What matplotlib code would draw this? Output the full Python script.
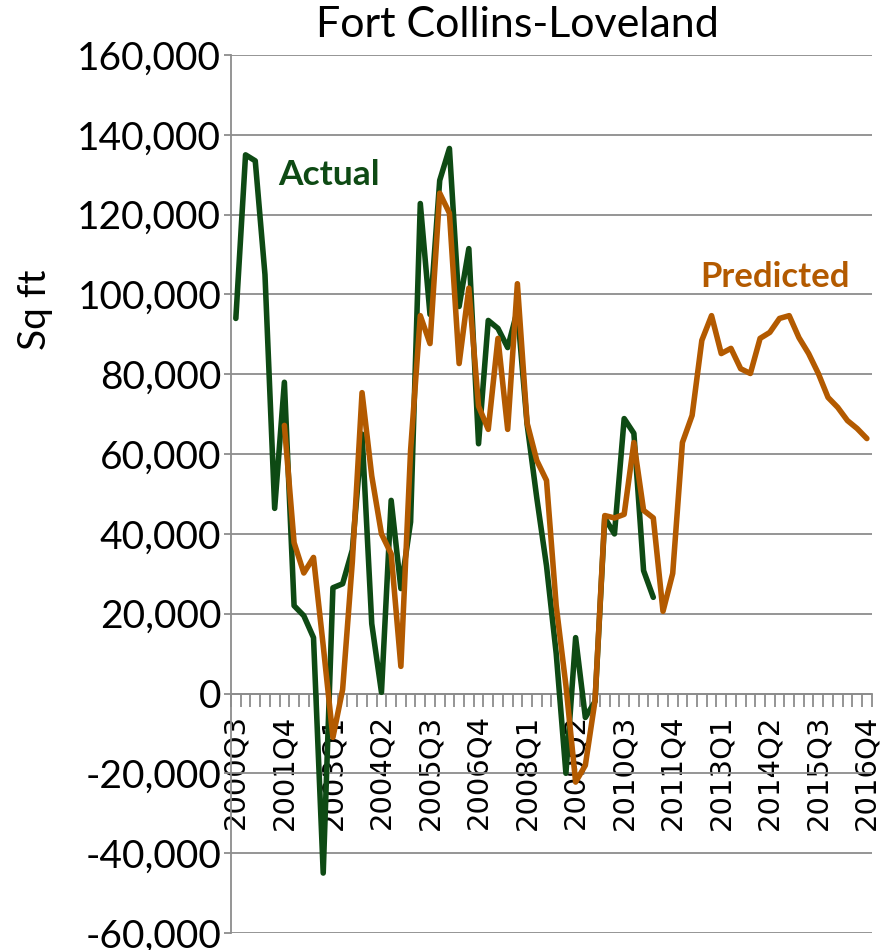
import matplotlib
matplotlib.use("Agg")
import matplotlib.pyplot as plt
import numpy as np
from matplotlib.ticker import FixedLocator, FuncFormatter

# ---- data ----
quarters = [f"{y}Q{q}" for y in range(2000, 2017) for q in range(1, 5)][2:]  # 2000Q3 .. 2016Q4

actual = [94000, 135000, 133500, 105000, 46400, 78000, 22000, 19500, 14000, -45000,
          26500, 27500, 36000, 65000, 17500, 300, 48400, 26300, 43000, 122800,
          95000, 128600, 136600, 97000, 111500, 62600, 93500, 91500, 86700, 96000,
          67500, 49000, 32000, 10000, -20000, 14000, -6000, -2000, 44000, 40000,
          68900, 65200, 30800, 24100]

predicted = [None, None, None, None, None,
             67200, 37800, 30200, 34100, 12000, -11000, 1000, 33000, 75400, 54500,
             40000, 35000, 6800, 60900, 94700, 87700, 125400, 120400, 82700, 101600,
             72000, 66200, 89000, 66200, 102700, 67800, 58400, 53400, 22000, 2000,
             -22200, -18000, -1750, 44600, 44000, 44900, 62900, 45900, 44000, 20600,
             30100, 62900, 69700, 88500, 94700, 85200, 86500, 81400, 80200, 89000,
             90500, 94000, 94700, 89200, 85200, 80200, 74200, 71700, 68400, 66400,
             63900]

title = "Fort Collins-Loveland"
ylabel = "Sq ft"
yticks = list(range(-60000, 160001, 20000))

GREEN = "#0e4a14"
ORANGE = "#b35a00"
GRID = "#8c8c8c"
FONT = "Lato"

fig = plt.figure(figsize=(8.85, 9.5), dpi=100)
ax = fig.add_axes([0.261, 0.018, 0.724, 0.924])

xa = np.arange(len(actual))
xp = np.arange(len(predicted))
pv = np.array([np.nan if v is None else v for v in predicted], dtype=float)

ax.plot(xa, actual, color=GREEN, lw=4.0, solid_joinstyle="round", solid_capstyle="round", zorder=3)
ax.plot(xp, pv, color=ORANGE, lw=4.0, solid_joinstyle="round", solid_capstyle="round", zorder=4)

ax.set_xlim(-0.5, len(quarters) - 0.5)
ax.set_ylim(-60000, 160000)

# grid
ax.set_yticks(yticks)
ax.yaxis.set_major_formatter(FuncFormatter(lambda v, p: f"{int(v):,}"))
ax.grid(axis="y", color=GRID, lw=1.3, zorder=0)
ax.set_axisbelow(True)
for lab in ax.get_yticklabels():
    lab.set_fontfamily(FONT)
    lab.set_fontsize(28)
ax.tick_params(axis="y", length=5, width=1.3, color=GRID, pad=2)

for s in ["top", "right"]:
    ax.spines[s].set_visible(False)
ax.spines["left"].set_color(GRID)
ax.spines["left"].set_linewidth(1.3)
ax.spines["bottom"].set_position(("data", 0))
ax.spines["bottom"].set_color(GRID)
ax.spines["bottom"].set_linewidth(1.3)

major = list(range(0, len(quarters), 5))
ax.xaxis.set_major_locator(FixedLocator(major))
ax.set_xticklabels([quarters[i] for i in major], rotation=90, fontsize=21,
                   family="DejaVu Sans", va="top")
ax.xaxis.set_minor_locator(FixedLocator(np.arange(-0.5, len(quarters) + 0.5, 1)))
ax.tick_params(axis="x", which="major", length=0, pad=15)
ax.tick_params(axis="x", which="minor", length=9, width=1.3, color=GRID, direction="out")

fig.text(517 / 885, 1 - 25 / 950, title, fontsize=31, family=FONT, ha="center", va="center")
fig.text(35 / 885, 1 - 310 / 950, ylabel, fontsize=28, family=FONT, rotation=90,
         ha="center", va="center")

ax.text((278 - 231) / 641, (933 - 175) / 878, "Actual", transform=ax.transAxes, color=GREEN,
        fontsize=25.5, fontweight="bold", family=FONT, va="center", ha="left")
ax.text((700 - 231) / 641, (933 - 277) / 878, "Predicted", transform=ax.transAxes, color=ORANGE,
        fontsize=25, fontweight="bold", family=FONT, va="center", ha="left")

fig.savefig("out.png", dpi=100)
